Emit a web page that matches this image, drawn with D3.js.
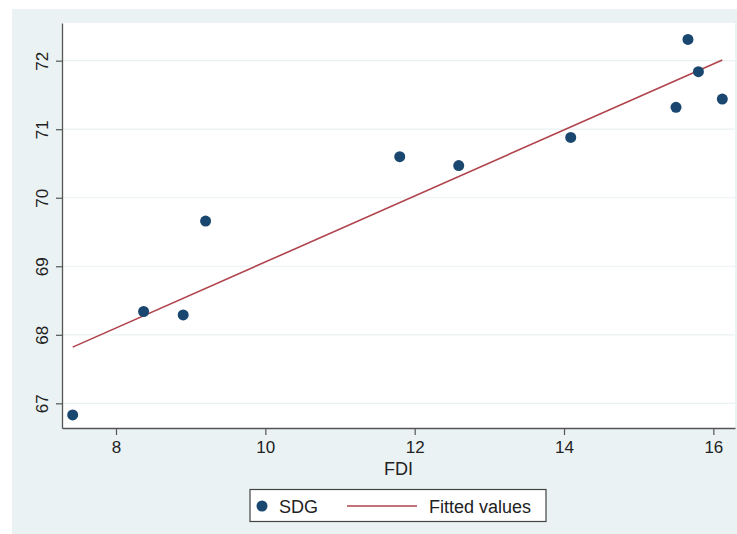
<!DOCTYPE html>
<html><head><meta charset="utf-8">
<script src="https://cdn.jsdelivr.net/npm/d3@7"></script>
<style>body{margin:0;background:#fff}svg{display:block}</style>
</head><body>
<script>
const fdi = [7.42, 8.37, 8.90, 9.20, 11.80, 12.59, 14.09, 15.50, 15.66, 15.80, 16.12];
const sdg = [66.83, 68.34, 68.29, 69.66, 70.60, 70.47, 70.88, 71.32, 72.31, 71.84, 71.44];
const fittedX = [7.42, 16.12];
const fittedY = [67.82, 72.01];
const xTicks = [8, 10, 12, 14, 16];
const yTicks = [67, 68, 69, 70, 71, 72];
const legendLabels = ["SDG", "Fitted values"];

const W = 737, H = 534;
const P = {left: 62, right: 735, top: 23, bottom: 428};
const svg = d3.select("body").append("svg").attr("width", W).attr("height", H);
const font = "'Liberation Sans', Arial, sans-serif";

svg.append("rect").attr("x", 12).attr("y", 9).attr("width", W - 12).attr("height", H - 9).attr("fill", "#eaf2f3");
svg.append("rect").attr("x", P.left).attr("y", P.top).attr("width", P.right - P.left).attr("height", P.bottom - P.top).attr("fill", "#fff");

const x = d3.scaleLinear().domain([7.277, 16.29]).range([P.left, P.right]);
const y = d3.scaleLinear().domain([66.64, 72.55]).range([P.bottom, P.top]);

// gridlines
svg.append("g").selectAll("line").data(yTicks).join("line")
  .attr("x1", P.left).attr("x2", P.right)
  .attr("y1", d => y(d)).attr("y2", d => y(d))
  .attr("stroke", "#eaf2f3").attr("stroke-width", 1.2);

// axes
const xAxis = svg.append("g").attr("transform", `translate(0,${P.bottom})`)
  .call(d3.axisBottom(x).tickValues(xTicks).tickFormat(d3.format("d")).tickSize(7).tickPadding(6).tickSizeOuter(0));
const yAxis = svg.append("g").attr("transform", `translate(${P.left},0)`)
  .call(d3.axisLeft(y).tickValues(yTicks).tickFormat(d3.format("d")).tickSize(6).tickSizeOuter(0));
[xAxis, yAxis].forEach(g => {
  g.select(".domain").attr("stroke", "#555").attr("stroke-width", 1.3);
  g.selectAll(".tick line").attr("stroke", "#555").attr("stroke-width", 1.2);
  g.selectAll("text").attr("fill", "#222").attr("font-family", font).attr("font-size", 17);
});
yAxis.selectAll(".tick text")
  .attr("transform", "rotate(-90)")
  .attr("x", 0).attr("y", -14).attr("dy", 0)
  .attr("text-anchor", "middle");

svg.append("text").attr("x", (P.left + P.right) / 2).attr("y", 475)
  .attr("text-anchor", "middle").attr("font-family", font).attr("font-size", 18).attr("fill", "#222").text("FDI");

// fitted line
svg.append("path")
  .datum(fittedX.map((d, i) => [d, fittedY[i]]))
  .attr("d", d3.line().x(d => x(d[0])).y(d => y(d[1])))
  .attr("fill", "none").attr("stroke", "#b0434c").attr("stroke-width", 1.6);

// points
svg.append("g").selectAll("circle").data(fdi.map((d, i) => [d, sdg[i]])).join("circle")
  .attr("cx", d => x(d[0])).attr("cy", d => y(d[1])).attr("r", 5.5)
  .attr("fill", "#1a476f");

// legend
const lg = svg.append("g");
lg.append("rect").attr("x", 250).attr("y", 489.5).attr("width", 296).attr("height", 32)
  .attr("fill", "#fff").attr("stroke", "#444").attr("stroke-width", 1.2);
lg.append("circle").attr("cx", 262).attr("cy", 506).attr("r", 5.5).attr("fill", "#1a476f");
lg.append("text").attr("x", 279).attr("y", 512.5).attr("font-family", font).attr("font-size", 18).attr("fill", "#222").text(legendLabels[0]);
lg.append("line").attr("x1", 347).attr("x2", 417).attr("y1", 506).attr("y2", 506).attr("stroke", "#b0434c").attr("stroke-width", 1.6);
lg.append("text").attr("x", 429).attr("y", 512.5).attr("font-family", font).attr("font-size", 18).attr("fill", "#222").text(legendLabels[1]);
</script>
</body></html>
